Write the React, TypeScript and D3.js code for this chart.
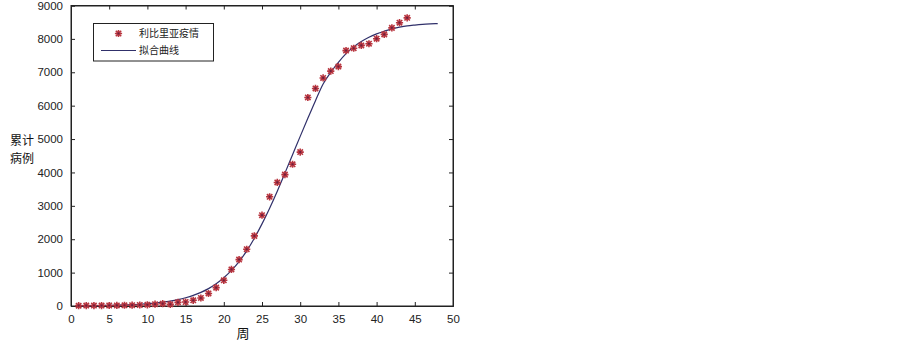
import React, { useEffect, useRef } from 'react';
import * as d3 from 'd3';

// weekly cumulative cases (Liberia)
const weeks = [1, 2, 3, 4, 5, 6, 7, 8, 9, 10, 11, 12, 13, 14, 15, 16, 17, 18, 19, 20, 21, 22,
  23, 24, 25, 26, 27, 28, 29, 30, 31, 32, 33, 34, 35, 36, 37, 38, 39, 40, 41, 42, 43, 44];
const cases = [10, 12, 13, 14, 15, 18, 22, 25, 30, 35, 55, 70, 50, 110, 120, 170, 240, 375, 550, 770,
  1095, 1390, 1700, 2100, 2720, 3270, 3700, 3935, 4245, 4610, 6245, 6515, 6830, 7035, 7170, 7650,
  7720, 7805, 7855, 8005, 8135, 8330, 8485, 8630];

// fitted curve, estimated at each week
const fitWeeks = [1, 2, 3, 4, 5, 6, 7, 8, 9, 10, 11, 12, 13, 14, 15, 16, 17, 18, 19, 20, 21, 22, 23, 24,
  25, 26, 27, 28, 29, 30, 31, 32, 33, 34, 35, 36, 37, 38, 39, 40, 41, 42, 43, 44, 45, 46, 47, 48];
const fitValues = [7, 9, 11, 15, 19, 24, 32, 41, 53, 69, 89, 115, 148, 191, 247, 317, 407, 520, 663, 845,
  1065, 1330, 1650, 2030, 2460, 2930, 3440, 3980, 4530, 5080, 5620, 6150, 6650, 7000, 7300, 7560,
  7760, 7920, 8050, 8150, 8230, 8300, 8350, 8390, 8415, 8435, 8448, 8457];

const xTicks = [0, 5, 10, 15, 20, 25, 30, 35, 40, 45, 50];
const yTicks = [0, 1000, 2000, 3000, 4000, 5000, 6000, 7000, 8000, 9000];

const legendLabels = ['利比里亚疫情', '拟合曲线'];

export default function App() {
  const ref = useRef<SVGSVGElement | null>(null);

  useEffect(() => {
    const svg = d3.select(ref.current);
    svg.selectAll('*').remove();

    const left = 71, right = 453, top = 5.5, bottom = 306;
    const x = d3.scaleLinear().domain([0, 50]).range([left, right]);
    const y = d3.scaleLinear().domain([0, 9000]).range([bottom, top]);
    const numFont = '"Liberation Sans", Arial, sans-serif';
    const cjkFont = '"Noto Sans CJK SC", sans-serif';
    const axisColor = '#222';

    // box
    svg.append('rect')
      .attr('x', left).attr('y', top)
      .attr('width', right - left).attr('height', bottom - top)
      .attr('fill', '#fff').attr('stroke', axisColor).attr('stroke-width', 1);

    // bottom / left axes with inward ticks
    const xAxis = svg.append('g')
      .attr('transform', `translate(0,${bottom})`)
      .call(d3.axisBottom(x).tickValues(xTicks).tickSize(-4).tickPadding(9));
    const yAxis = svg.append('g')
      .attr('transform', `translate(${left},0)`)
      .call(d3.axisLeft(y).tickValues(yTicks).tickFormat(d3.format('d')).tickSize(-4).tickPadding(8));
    // mirrored ticks on top / right
    const xTop = svg.append('g')
      .attr('transform', `translate(0,${top})`)
      .call(d3.axisTop(x).tickValues(xTicks).tickSize(-4).tickFormat(() => ''));
    const yRight = svg.append('g')
      .attr('transform', `translate(${right},0)`)
      .call(d3.axisRight(y).tickValues(yTicks).tickSize(-4).tickFormat(() => ''));

    [xAxis, yAxis, xTop, yRight].forEach(g => {
      g.select('.domain').attr('stroke', axisColor);
      g.selectAll('line').attr('stroke', axisColor);
      g.selectAll('text')
        .attr('fill', '#222')
        .style('font-family', numFont)
        .style('font-size', '11.5px');
    });

    // fitted curve
    const line = d3.line<number>()
      .x((d, i) => x(fitWeeks[i]))
      .y(d => y(d))
      .curve(d3.curveMonotoneX);
    svg.append('path')
      .datum(fitValues)
      .attr('d', line)
      .attr('fill', 'none')
      .attr('stroke', '#30306a')
      .attr('stroke-width', 1.2);

    // asterisk markers
    const star = (g: d3.Selection<SVGGElement, unknown, null, undefined>, cx: number, cy: number) => {
      const r = 3.6, q = 2.7;
      const p = `M${cx - r},${cy}L${cx + r},${cy}M${cx},${cy - r}L${cx},${cy + r}` +
        `M${cx - q},${cy - q}L${cx + q},${cy + q}M${cx - q},${cy + q}L${cx + q},${cy - q}`;
      g.append('path').attr('d', p).attr('stroke', '#b8353f').attr('stroke-width', 1.6).attr('fill', 'none');
      g.append('circle').attr('cx', cx).attr('cy', cy).attr('r', 1.1).attr('fill', '#6a2040');
    };
    const markers = svg.append('g');
    cases.forEach((v, i) => star(markers, x(weeks[i]), y(v)));

    // legend
    const lg = svg.append('g');
    lg.append('rect')
      .attr('x', 93.5).attr('y', 23.5).attr('width', 120).attr('height', 37.5)
      .attr('fill', '#fff').attr('stroke', axisColor).attr('stroke-width', 1);
    star(lg, 118.5, 33.5);
    lg.append('line')
      .attr('x1', 101).attr('x2', 136).attr('y1', 50.5).attr('y2', 50.5)
      .attr('stroke', '#30306a').attr('stroke-width', 1.2);
    legendLabels.forEach((t, i) => {
      lg.append('text')
        .attr('x', 139).attr('y', 33.5 + i * 17)
        .attr('dy', '0.35em')
        .style('font-family', cjkFont)
        .style('font-size', '10px')
        .attr('fill', '#222')
        .text(t);
    });

    // axis titles
    svg.append('text')
      .attr('x', 243).attr('y', 338)
      .attr('text-anchor', 'middle')
      .style('font-family', cjkFont).style('font-size', '13px')
      .attr('fill', '#111')
      .text('周');
    ['累计', '病例'].forEach((t, i) => {
      svg.append('text')
        .attr('x', 10).attr('y', 145 + i * 18)
        .style('font-family', cjkFont).style('font-size', '12px')
        .attr('fill', '#111')
        .text(t);
    });
  }, []);

  return (
    <svg ref={ref} width={903} height={341}
      style={{ position: 'absolute', left: 0, top: 0, background: '#fff' }} />
  );
}
